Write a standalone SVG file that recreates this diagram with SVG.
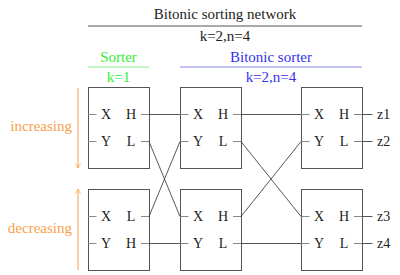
<svg xmlns="http://www.w3.org/2000/svg" width="400" height="275" viewBox="0 0 400 275">
<style>
text{font-family:'Liberation Serif','DejaVu Serif',serif}
.t{font-size:15px}
.g{fill:#33ee33}
.b{fill:#3333ee}
.o{fill:#f9a04a}
.box{fill:none;stroke:#555;stroke-width:1}
.stub{stroke:#888;stroke-width:1}
.w{stroke:#444;stroke-width:0.9;fill:none}
.m{text-anchor:middle}
</style>
<defs>
<marker id="ah" viewBox="0 0 10 10" refX="9" refY="5" markerWidth="6" markerHeight="6" orient="auto">
<path d="M1,1 L9,5 L1,9" fill="none" stroke="#f9a04a" stroke-width="1.2"/>
</marker>
</defs>
<g font-family="'Liberation Serif', 'DejaVu Serif', serif" font-size="14" fill="#222">
<g id="header">
<text class="t m" x="225" y="19">Bitonic sorting network</text>
<line x1="88" y1="26" x2="362" y2="26" stroke="#555"/>
<text class="t m" x="225" y="41">k=2,n=4</text>
<text class="t m g" x="118.5" y="62">Sorter</text>
<line x1="88" y1="67" x2="149" y2="67" stroke="#88ee88"/>
<text class="t m g" x="118.5" y="82">k=1</text>
<text class="t m b" x="271" y="62">Bitonic sorter</text>
<line x1="180" y1="67" x2="362" y2="67" stroke="#8888ee"/>
<text class="t m b" x="271" y="82">k=2,n=4</text>
</g>
<g id="arrows">
<line x1="78" y1="88" x2="78" y2="168" stroke="#f9a04a" marker-end="url(#ah)"/>
<text class="t o" x="72" y="131" text-anchor="end">increasing</text>
<line x1="78" y1="270" x2="78" y2="189" stroke="#f9a04a" marker-end="url(#ah)"/>
<text class="t o" x="72" y="233" text-anchor="end">decreasing</text>
</g>
<g id="s1top">
<rect class="box" x="88.5" y="87.5" width="61" height="81"/>
<line class="stub" x1="88" y1="114.5" x2="96.5" y2="114.5"/>
<line class="stub" x1="88" y1="141.5" x2="96.5" y2="141.5"/>
<line class="stub" x1="141" y1="114.5" x2="149" y2="114.5"/>
<line class="stub" x1="141" y1="141.5" x2="149" y2="141.5"/>
<text class="m" x="106" y="119">X</text><text class="m" x="131" y="119">H</text>
<text class="m" x="106" y="146">Y</text><text class="m" x="131" y="146">L</text>
</g>
<g id="s1bot">
<rect class="box" x="88.5" y="189.5" width="61" height="81"/>
<line class="stub" x1="88" y1="216.5" x2="96.5" y2="216.5"/>
<line class="stub" x1="88" y1="243.5" x2="96.5" y2="243.5"/>
<line class="stub" x1="141" y1="216.5" x2="149" y2="216.5"/>
<line class="stub" x1="141" y1="243.5" x2="149" y2="243.5"/>
<text class="m" x="106" y="221">X</text><text class="m" x="131" y="221">L</text>
<text class="m" x="106" y="248">Y</text><text class="m" x="131" y="248">H</text>
</g>
<g id="s2top">
<rect class="box" x="180.5" y="87.5" width="61" height="81"/>
<line class="stub" x1="180" y1="114.5" x2="188.5" y2="114.5"/>
<line class="stub" x1="180" y1="141.5" x2="188.5" y2="141.5"/>
<line class="stub" x1="233" y1="114.5" x2="241" y2="114.5"/>
<line class="stub" x1="233" y1="141.5" x2="241" y2="141.5"/>
<text class="m" x="198" y="119">X</text><text class="m" x="223" y="119">H</text>
<text class="m" x="198" y="146">Y</text><text class="m" x="223" y="146">L</text>
</g>
<g id="s2bot">
<rect class="box" x="180.5" y="189.5" width="61" height="81"/>
<line class="stub" x1="180" y1="216.5" x2="188.5" y2="216.5"/>
<line class="stub" x1="180" y1="243.5" x2="188.5" y2="243.5"/>
<line class="stub" x1="233" y1="216.5" x2="241" y2="216.5"/>
<line class="stub" x1="233" y1="243.5" x2="241" y2="243.5"/>
<text class="m" x="198" y="221">X</text><text class="m" x="223" y="221">H</text>
<text class="m" x="198" y="248">Y</text><text class="m" x="223" y="248">L</text>
</g>
<g id="s3top">
<rect class="box" x="301.5" y="87.5" width="61" height="81"/>
<line class="stub" x1="301" y1="114.5" x2="309.5" y2="114.5"/>
<line class="stub" x1="301" y1="141.5" x2="309.5" y2="141.5"/>
<line class="stub" x1="354" y1="114.5" x2="362" y2="114.5"/>
<line class="stub" x1="354" y1="141.5" x2="362" y2="141.5"/>
<text class="m" x="319" y="119">X</text><text class="m" x="344" y="119">H</text>
<text class="m" x="319" y="146">Y</text><text class="m" x="344" y="146">L</text>
</g>
<g id="s3bot">
<rect class="box" x="301.5" y="189.5" width="61" height="81"/>
<line class="stub" x1="301" y1="216.5" x2="309.5" y2="216.5"/>
<line class="stub" x1="301" y1="243.5" x2="309.5" y2="243.5"/>
<line class="stub" x1="354" y1="216.5" x2="362" y2="216.5"/>
<line class="stub" x1="354" y1="243.5" x2="362" y2="243.5"/>
<text class="m" x="319" y="221">X</text><text class="m" x="344" y="221">H</text>
<text class="m" x="319" y="248">Y</text><text class="m" x="344" y="248">L</text>
</g>
<g id="connectors">
<line class="w" x1="149" y1="114.5" x2="180" y2="114.5"/>
<line class="w" x1="149" y1="141.5" x2="180" y2="216.5"/>
<line class="w" x1="149" y1="216.5" x2="180" y2="141.5"/>
<line class="w" x1="149" y1="243.5" x2="180" y2="243.5"/>
<line class="w" x1="241" y1="114.5" x2="301" y2="114.5"/>
<line class="w" x1="241" y1="141.5" x2="301" y2="216.5"/>
<line class="w" x1="241" y1="216.5" x2="301" y2="141.5"/>
<line class="w" x1="241" y1="243.5" x2="301" y2="243.5"/>
<line class="w" x1="362" y1="114.5" x2="372.5" y2="114.5"/>
<line class="w" x1="362" y1="141.5" x2="372.5" y2="141.5"/>
<line class="w" x1="362" y1="216.5" x2="372.5" y2="216.5"/>
<line class="w" x1="362" y1="243.5" x2="372.5" y2="243.5"/>
</g>
<g id="outputs">
<text x="377" y="119">z1</text>
<text x="377" y="146">z2</text>
<text x="377" y="221">z3</text>
<text x="377" y="248">z4</text>
</g>
</g>
</svg>
